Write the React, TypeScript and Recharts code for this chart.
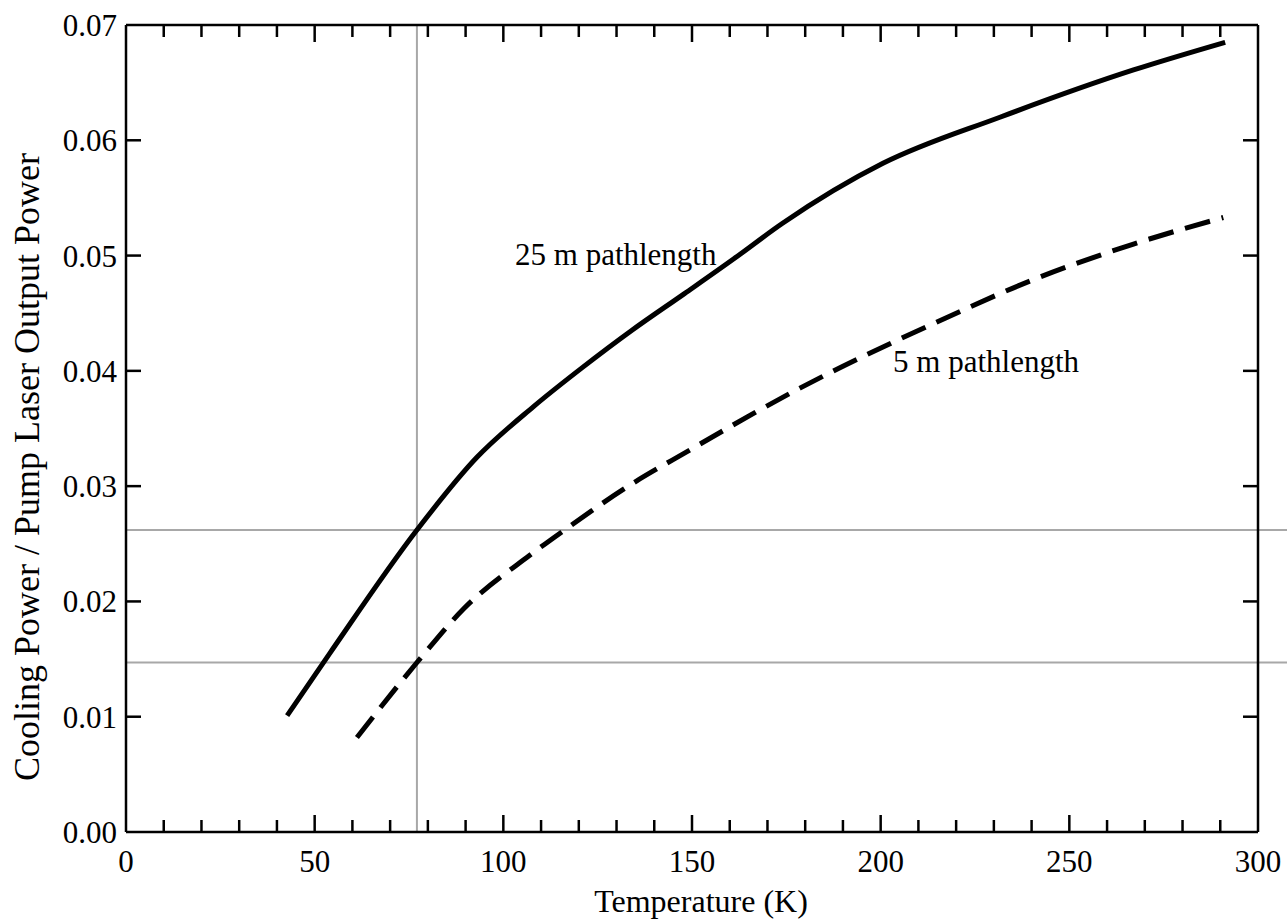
import React from 'react';
import { LineChart, Line, XAxis, YAxis, ReferenceLine, ReferenceDot } from 'recharts';

const FONT = '"Liberation Serif", "Times New Roman", Times, serif';

// tick values
const xTicks = [0, 10, 20, 30, 40, 50, 60, 70, 80, 90, 100, 110, 120, 130, 140, 150, 160, 170, 180, 190, 200, 210, 220, 230, 240, 250, 260, 270, 280, 290, 300];
const yTicks = [0, 0.01, 0.02, 0.03, 0.04, 0.05, 0.06, 0.07];
const yTickLabels = ['0.00', '0.01', '0.02', '0.03', '0.04', '0.05', '0.06', '0.07'];

// 25 m pathlength (solid)
const solidT = [42.7, 54, 77.1, 93, 108, 121, 134, 148, 161, 174, 200.6, 231.6, 267, 291.3];
const solidV = [0.0101, 0.0155, 0.0262, 0.0325, 0.0369, 0.0403, 0.0435, 0.0467, 0.0497, 0.0528, 0.058, 0.062, 0.0661, 0.0685];

// 5 m pathlength (dashed)
const dashedT = [61.2, 77.1, 89.3, 107, 115.8, 133.6, 148.7, 178.6, 190, 214, 240.4, 267, 290.8];
const dashedV = [0.0082, 0.0147, 0.0193, 0.024, 0.0261, 0.0301, 0.033, 0.0385, 0.0404, 0.0441, 0.0479, 0.051, 0.0533];

// gray guide lines
const guideT = 77.1;
const guideV = [0.0262, 0.0147];

// annotations
const annotations = [
  { t: 103.1, v: 0.0492, text: '25 m pathlength' },
  { t: 203.3, v: 0.0399, text: '5 m pathlength' },
];

const solidData = solidT.map((t, i) => ({ t, v: solidV[i] }));
const dashedData = dashedT.map((t, i) => ({ t, v: dashedV[i] }));

const BottomTick = (props: any) => {
  const { x, y, payload } = props;
  const val = payload.value;
  const major = val % 50 === 0;
  return (
    <g>
      {val > 0 && val < 300 && (
        <line x1={x} y1={y} x2={x} y2={y - (major ? 17 : 12)} stroke="#000" strokeWidth={2.5} />
      )}
      {major && (
        <text x={x} y={y + 40} textAnchor="middle" fontFamily={FONT} fontSize={31} fill="#000">
          {val}
        </text>
      )}
    </g>
  );
};

const TopTick = (props: any) => {
  const { x, y, payload } = props;
  const val = payload.value;
  const major = val % 50 === 0;
  if (val <= 0 || val >= 300) return <g />;
  return <line x1={x} y1={y} x2={x} y2={y + (major ? 17 : 12)} stroke="#000" strokeWidth={2.5} />;
};

const LeftTick = (props: any) => {
  const { x, y, payload, index } = props;
  const val = payload.value;
  return (
    <g>
      {val > 0 && val < 0.07 && <line x1={x} y1={y} x2={x + 15} y2={y} stroke="#000" strokeWidth={2.5} />}
      <text x={x - 9} y={y + 11} textAnchor="end" fontFamily={FONT} fontSize={31} fill="#000">
        {yTickLabels[index]}
      </text>
    </g>
  );
};

const RightTick = (props: any) => {
  const { x, y, payload } = props;
  const val = payload.value;
  if (val <= 0 || val >= 0.07) return <g />;
  return <line x1={x} y1={y} x2={x - 15} y2={y} stroke="#000" strokeWidth={2.5} />;
};

const XTitle = () => (
  <text x={701} y={912} textAnchor="middle" fontFamily={FONT} fontSize={32} fill="#000">
    Temperature (K)
  </text>
);

const YTitle = () => (
  <text
    transform="translate(39,467) rotate(-90)"
    textAnchor="middle"
    fontFamily={FONT}
    fontSize={36}
    fill="#000"
  >
    Cooling Power / Pump Laser Output Power
  </text>
);

const AnnotationShape = (text: string) => (props: any) => (
  <text x={props.cx} y={props.cy} textAnchor="start" fontFamily={FONT} fontSize={31} fill="#000">
    {text}
  </text>
);

export default function App() {
  return (
    <div style={{ position: 'absolute', left: 0, top: 0, background: '#fff' }}>
      <LineChart width={1287} height={924} margin={{ top: 24, right: 0, bottom: 0, left: 0 }}>
        <XAxis
          dataKey="t"
          type="number"
          domain={[0, 300]}
          ticks={xTicks}
          interval={0}
          allowDataOverflow
          height={92}
          tickSize={0}
          tickMargin={0}
          tickLine={false}
          axisLine={{ stroke: '#000', strokeWidth: 2.5 }}
          tick={<BottomTick />}
          label={<XTitle />}
        />
        <XAxis
          xAxisId="top"
          orientation="top"
          dataKey="t"
          type="number"
          domain={[0, 300]}
          ticks={xTicks}
          interval={0}
          allowDataOverflow
          height={1}
          tickSize={0}
          tickMargin={0}
          tickLine={false}
          axisLine={{ stroke: '#000', strokeWidth: 2.5 }}
          tick={<TopTick />}
        />
        <YAxis
          type="number"
          domain={[0, 0.07]}
          ticks={yTicks}
          interval={0}
          allowDataOverflow
          width={126}
          tickSize={0}
          tickMargin={0}
          tickLine={false}
          axisLine={{ stroke: '#000', strokeWidth: 2.5 }}
          tick={<LeftTick />}
          label={<YTitle />}
        />
        <YAxis
          yAxisId="right"
          orientation="right"
          type="number"
          domain={[0, 0.07]}
          ticks={yTicks}
          interval={0}
          allowDataOverflow
          width={29}
          tickSize={0}
          tickMargin={0}
          tickLine={false}
          axisLine={{ stroke: '#000', strokeWidth: 2.5 }}
          tick={<RightTick />}
        />
        <ReferenceLine x={guideT} stroke="#a8a8a8" strokeWidth={2} />
        {guideV.map((v, i) => (
          <ReferenceLine
            key={i}
            segment={[{ x: 0, y: v }, { x: 307.7, y: v }]}
            ifOverflow="visible"
            stroke="#a8a8a8"
            strokeWidth={2}
          />
        ))}
        <Line
          data={solidData}
          dataKey="v"
          xAxisId="top"
          yAxisId="right"
          type="monotone"
          stroke="none"
          strokeWidth={0}
          dot={false}
          activeDot={false}
          legendType="none"
          isAnimationActive={false}
        />
        <Line
          data={solidData}
          dataKey="v"
          type="monotone"
          stroke="#000"
          strokeWidth={5}
          dot={false}
          isAnimationActive={false}
        />
        <Line
          data={dashedData}
          dataKey="v"
          type="monotone"
          stroke="#000"
          strokeWidth={5}
          strokeDasharray="26 12"
          dot={false}
          isAnimationActive={false}
        />
        {annotations.map((a, i) => (
          <ReferenceDot key={i} x={a.t} y={a.v} r={0} shape={AnnotationShape(a.text)} />
        ))}
      </LineChart>
    </div>
  );
}
